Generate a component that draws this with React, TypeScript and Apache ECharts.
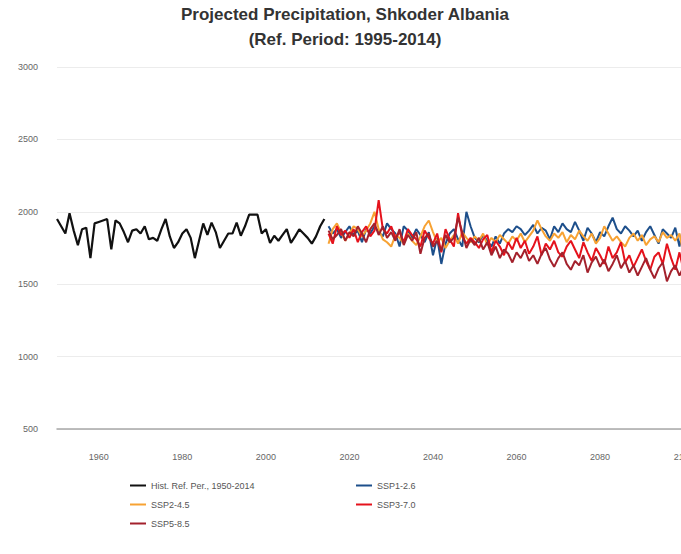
import React, { useEffect, useRef } from "react";
import * as echarts from "echarts";

const histStartYear = 1950;
const projStartYear = 2015;

const histValues = [
  1950, 1900, 1850, 1990, 1870,
  1770, 1880, 1890, 1680, 1920,
  1930, 1940, 1950, 1740, 1940,
  1920, 1860, 1790, 1870, 1880,
  1850, 1900, 1810, 1820, 1800,
  1880, 1950, 1830, 1750, 1790,
  1850, 1880, 1820, 1680, 1800,
  1920, 1840, 1925, 1860, 1750,
  1800, 1850, 1850, 1925, 1835,
  1900, 1980, 1980, 1980, 1850,
  1880, 1785, 1835, 1800, 1840,
  1880, 1785, 1830, 1880, 1850,
  1820, 1780, 1830, 1900, 1950,
];

const ssp126 = [
  1900, 1850, 1880, 1820, 1860,
  1900, 1840, 1870, 1790, 1880,
  1850, 1900, 1860, 1830, 1920,
  1880, 1850, 1760, 1900, 1870,
  1820, 1880, 1840, 1790, 1860,
  1700, 1820, 1640, 1780, 1850,
  1880, 1810, 1760, 2000, 1900,
  1820, 1790, 1840, 1800, 1760,
  1830, 1780, 1850, 1880, 1860,
  1900, 1880, 1840, 1870, 1910,
  1850, 1890, 1870, 1810, 1900,
  1860, 1920, 1880, 1860, 1930,
  1870, 1800, 1890, 1850, 1790,
  1860, 1830, 1900, 1960, 1880,
  1850, 1900, 1870, 1830, 1870,
  1800, 1860, 1900, 1840, 1780,
  1880, 1850, 1820, 1890, 1760,
  1910,
];

const ssp245 = [
  1780, 1880, 1920, 1860, 1800,
  1850, 1900, 1880, 1830, 1870,
  1920, 2000, 1880, 1810, 1790,
  1760, 1840, 1820, 1780, 1850,
  1800, 1770, 1830, 1900, 1940,
  1860, 1790, 1820, 1750, 1800,
  1840, 1780, 1860, 1820, 1790,
  1830, 1800, 1850, 1770, 1820,
  1790, 1840, 1810, 1780, 1830,
  1800, 1850, 1790, 1830, 1870,
  1940, 1880, 1830, 1800, 1850,
  1820, 1860, 1790, 1840, 1810,
  1870, 1830, 1800, 1850, 1780,
  1820, 1900, 1850, 1800, 1830,
  1790, 1760, 1820, 1850, 1800,
  1840, 1770, 1810, 1830, 1790,
  1860, 1820, 1840, 1800, 1850,
  1700,
];

const ssp370 = [
  1850, 1780, 1900, 1840, 1870,
  1820, 1880, 1790, 1860, 1900,
  1830, 1870, 2080, 1880, 1850,
  1900, 1820, 1860, 1790, 1880,
  1840, 1810, 1760, 1870, 1820,
  1780, 1850, 1720, 1880, 1810,
  1760, 1990, 1830, 1780, 1820,
  1790, 1750, 1810, 1840, 1720,
  1800, 1760, 1700, 1790, 1740,
  1820, 1750, 1800, 1710, 1760,
  1830, 1700, 1780, 1740, 1800,
  1720, 1690, 1760, 1800, 1740,
  1680, 1790, 1720, 1660, 1750,
  1700, 1640, 1760, 1680, 1720,
  1790, 1650, 1700, 1620, 1680,
  1740, 1660, 1600, 1690, 1720,
  1640, 1780, 1680, 1600, 1720,
  1590,
];

const ssp585 = [
  1870, 1810, 1840, 1880, 1800,
  1860, 1830, 1900, 1850, 1790,
  1880, 1920, 1840, 1900, 1820,
  1860, 1800, 1880, 1770, 1840,
  1800, 1860, 1710, 1820, 1850,
  1760, 1800, 1730, 1840, 1790,
  1820, 1960, 1860, 1750, 1810,
  1770, 1820, 1740, 1790, 1700,
  1760, 1680, 1740, 1710, 1650,
  1720, 1680, 1740, 1660, 1700,
  1640, 1710, 1750, 1670, 1620,
  1680, 1720, 1640, 1600, 1660,
  1630, 1700, 1580, 1650, 1690,
  1620, 1670, 1590, 1640, 1700,
  1610, 1660, 1580, 1630, 1560,
  1620, 1680, 1600, 1540, 1610,
  1650, 1520, 1590, 1630, 1560,
  1620,
];

const seriesNames = [
  "Hist. Ref. Per., 1950-2014",
  "SSP1-2.6",
  "SSP2-4.5",
  "SSP3-7.0",
  "SSP5-8.5",
];
const seriesColors = ["#111111", "#1d4f8b", "#f7a233", "#e5121c", "#a3212c"];
const xLabelYears = [1960, 1980, 2000, 2020, 2040, 2060, 2080, 2100];

const toPairs = (start: number, vals: number[]) => vals.map((v, i) => [start + i, v]);

export default function App() {
  const ref = useRef<HTMLDivElement>(null);
  useEffect(() => {
    if (!ref.current) return;
    const chart = echarts.init(ref.current, undefined, { renderer: "svg" });
    const font = "'Liberation Sans', Arial, sans-serif";
    const allData = [
      toPairs(histStartYear, histValues),
      toPairs(projStartYear, ssp126),
      toPairs(projStartYear, ssp245),
      toPairs(projStartYear, ssp370),
      toPairs(projStartYear, ssp585),
    ];
    const legendPos = [
      { left: 130, top: 481 },
      { left: 356, top: 481 },
      { left: 130, top: 500 },
      { left: 356, top: 500 },
      { left: 130, top: 519 },
    ];
    chart.setOption({
      animation: false,
      backgroundColor: "#ffffff",
      title: {
        text: "Projected Precipitation, Shkoder Albania\n(Ref. Period: 1995-2014)",
        left: 340,
        textAlign: "center",
        top: -3,
        textStyle: {
          fontFamily: font,
          fontSize: 17,
          fontWeight: "bold",
          color: "#333333",
          lineHeight: 25,
        },
      },
      legend: seriesNames.map((n, i) => ({
        data: [n],
        left: legendPos[i].left,
        top: legendPos[i].top,
        icon: "rect",
        itemWidth: 16,
        itemHeight: 2,
        itemGap: 4,
        padding: 0,
        selectedMode: false,
        textStyle: { fontFamily: font, fontSize: 9, color: "#555555" },
      })),
      grid: { left: 57, top: 67, bottom: 125, right: 8 },
      xAxis: {
        type: "value",
        min: 1950,
        max: 2102,
        interval: 10,
        axisLine: { show: true, lineStyle: { color: "#a8a8a8", width: 1.5 } },
        axisTick: { show: false },
        splitLine: { show: false },
        axisLabel: {
          margin: 23,
          fontFamily: font,
          fontSize: 9,
          color: "#666666",
          showMaxLabel: false,
          formatter: (v: number) => (xLabelYears.indexOf(v) >= 0 ? String(v) : ""),
        },
      },
      yAxis: {
        type: "value",
        min: 500,
        max: 3000,
        interval: 500,
        axisLine: { show: false },
        axisTick: { show: false },
        splitLine: { lineStyle: { color: "#ececec", width: 1 } },
        axisLabel: {
          margin: 19,
          fontFamily: font,
          fontSize: 9,
          color: "#666666",
          formatter: (v: number) => String(v),
        },
      },
      series: seriesNames.map((n, i) => ({
        name: n,
        type: "line",
        data: allData[i],
        showSymbol: false,
        symbol: "none",
        color: seriesColors[i],
        lineStyle: { width: i === 0 ? 2.2 : 2, color: seriesColors[i] },
        z: 2 + i,
      })),
    });
    return () => chart.dispose();
  }, []);
  return (
    <div
      style={{ position: "fixed", left: 0, top: 0, width: 681, height: 554, overflow: "hidden" }}
    >
      <div ref={ref} style={{ width: 700, height: 554 }} />
    </div>
  );
}
